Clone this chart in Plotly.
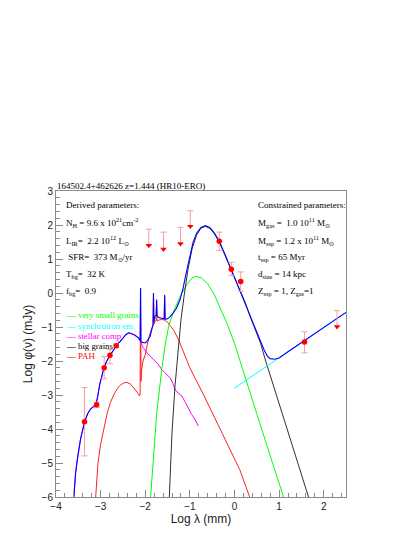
import plotly.graph_objects as go

# ---------------- data ----------------
total_x = [-3.60, -3.56, -3.51, -3.45, -3.36, -3.29, -3.23, -3.10, -3.06, -3.02, -2.97, -2.92,
           -2.86, -2.79, -2.70, -2.65, -2.56, -2.49, -2.43, -2.37, -2.32, -2.26, -2.20, -2.15,
           -2.115, -2.105, -2.095, -2.05, -2.00, -1.95, -1.89, -1.84, -1.825, -1.815, -1.805,
           -1.78, -1.755, -1.745, -1.735, -1.70, -1.65, -1.60, -1.575, -1.565, -1.555, -1.52,
           -1.45, -1.38, -1.30, -1.22, -1.15, -1.08, -1.00, -0.93, -0.85, -0.75, -0.65, -0.55,
           -0.45, -0.34, -0.20, -0.07, 0.05, 0.14, 0.25, 0.35, 0.48, 0.58, 0.66, 0.73, 0.80,
           0.90, 1.00, 1.20, 1.57, 2.00, 2.50]
total_y = [-6.0, -5.28, -4.79, -4.30, -3.79, -3.55, -3.42, -3.27, -3.00, -2.69, -2.44, -2.17,
           -2.00, -1.83, -1.66, -1.54, -1.42, -1.32, -1.22, -1.17, -1.19, -1.22, -1.27, -1.32,
           -1.40, 0.15, -1.44, -1.46, -1.47, -1.40, -1.27, -1.00, -0.95, 0.00, -0.85,
           -0.68, -0.66, -0.19, -0.66, -0.72, -0.74, -0.75, -0.76, -0.05, -0.76, -0.77,
           -0.71, -0.60, -0.45, -0.20, 0.15, 0.60, 1.12, 1.48, 1.76, 1.93, 1.98, 1.92,
           1.76, 1.52, 1.10, 0.68, 0.30, 0.05, -0.30, -0.68, -1.10, -1.42, -1.66, -1.84, -1.93,
           -1.95, -1.91, -1.73, -1.40, -1.02, -0.57]

stellar_x = [-3.60, -3.56, -3.51, -3.45, -3.36, -3.29, -3.23, -3.10, -3.06, -3.02, -2.97, -2.92,
             -2.86, -2.79, -2.70, -2.65, -2.56, -2.49, -2.43, -2.37, -2.32, -2.26, -2.20, -2.15,
             -2.10, -2.05, -1.96, -1.88, -1.81, -1.72, -1.63, -1.52, -1.44, -1.38, -1.33, -1.25,
             -1.18, -1.10, -1.03, -0.96, -0.88, -0.81]
stellar_y = [-6.0, -5.28, -4.79, -4.30, -3.79, -3.55, -3.42, -3.27, -3.00, -2.69, -2.44, -2.17,
             -2.00, -1.83, -1.66, -1.54, -1.42, -1.32, -1.22, -1.17, -1.19, -1.22, -1.27, -1.33,
             -1.45, -1.60, -1.76, -1.86, -1.95, -2.08, -2.25, -2.38, -2.50, -2.66, -2.85, -2.95,
             -3.03, -3.22, -3.42, -3.57, -3.73, -3.91]

pah_x = [-3.11, -3.06, -3.00, -2.92, -2.85, -2.78, -2.70, -2.62, -2.55, -2.47, -2.41, -2.33,
         -2.26, -2.18, -2.125, -2.115, -2.105, -2.095, -2.085, -2.05, -2.00, -1.95, -1.90,
         -1.84, -1.825, -1.815, -1.805, -1.78, -1.755, -1.745, -1.735, -1.68, -1.62, -1.575,
         -1.565, -1.555, -1.50, -1.43, -1.36, -1.25, -1.18, -1.00, -0.69, -0.40, -0.17, 0.12, 0.34]
pah_y = [-6.0, -5.0, -4.45, -3.90, -3.52, -3.22, -2.98, -2.80, -2.70, -2.64, -2.63, -2.68,
         -2.78, -2.92, -3.03, -2.95, 0.10, -2.60, -2.30, -2.00, -1.82, -1.50, -1.22,
         -1.00, -0.97, -0.05, -0.92, -0.84, -0.82, -0.25, -0.82, -0.79, -0.78, -0.80,
         -0.10, -0.81, -0.86, -0.98, -1.10, -1.38, -1.60, -2.20, -3.00, -3.80, -4.45, -5.20, -6.0]

vsg_x = [-1.88, -1.80, -1.74, -1.63, -1.55, -1.47, -1.35, -1.20, -1.05, -0.95, -0.87, -0.75,
         -0.60, -0.45, -0.30, -0.15, 0.00, 0.26, 0.50, 0.80, 1.10]
vsg_y = [-6.0, -4.5, -3.5, -2.25, -1.5, -0.95, -0.5, -0.05, 0.28, 0.44, 0.49, 0.45,
         0.27, -0.05, -0.48, -0.95, -1.48, -2.58, -3.55, -4.78, -6.0]

bg_x = [-1.46, -1.40, -1.33, -1.27, -1.20, -1.12, -1.04, -0.95, -0.85, -0.75, -0.65, -0.55,
        -0.45, -0.34, -0.20, -0.07, 0.05, 0.14, 0.25, 0.35, 0.48, 0.58, 0.70, 0.85, 1.02,
        1.20, 1.45, 1.66]
bg_y = [-6.0, -4.1, -2.7, -1.7, -0.8, 0.0, 0.7, 1.30, 1.70, 1.91, 1.96, 1.90,
        1.74, 1.50, 1.08, 0.66, 0.28, 0.04, -0.31, -0.69, -1.12, -1.46, -2.00, -2.62, -3.33,
        -4.08, -5.12, -6.0]

sync_x = [0.0, 2.5]
sync_y = [-2.80, -0.57]

det_x = [-3.36, -3.09, -2.92, -2.79, -2.65, -0.34, -0.07, 0.14, 1.57]
det_y = [-3.79, -3.29, -2.20, -1.83, -1.55, 1.52, 0.70, 0.34, -1.44]
det_err_hi = [1.01, 0.08, 0.33, 0.17, 0.05, 0.27, 0.20, 0.28, 0.30]
det_err_lo = [1.00, 0.08, 0.32, 0.25, 0.05, 0.27, 0.19, 0.29, 0.32]

lim_x = [-1.92, -1.59, -1.21, -0.99, 2.30]
lim_y = [1.40, 1.29, 1.45, 1.96, -0.99]
lim_err = [0.48, 0.50, 0.48, 0.46, 0.47]

legend_labels = ["very small grains", "synchrotron em.", "stellar comp.", "big grains", "PAH"]
legend_colors = ["#00ff00", "#00ffff", "#ff00ff", "#000000", "#ff0000"]

title_text = "164502.4+462626 z=1.444 (HR10-ERO)"
left_params = ["Derived parameters:",
               "N<sub>H</sub> = 9.6 x 10<sup>21</sup>cm<sup>-2</sup>",
               "L<sub>IR</sub>=\u00a0 2.2 10<sup>12</sup> L<sub>⊙</sub>",
               "\u00a0SFR=\u00a0 373 M<sub>⊙</sub>/yr",
               "T<sub>bg</sub>=\u00a0 32 K",
               "f<sub>bg</sub>=\u00a0 0.9"]
right_params = ["Constrained parameters:",
                "M<sub>gas</sub> =\u00a0 1.0 10<sup>11</sup> M<sub>⊙</sub>",
                "M<sub>ssp</sub> = 1.2 x 10<sup>11</sup> M<sub>⊙</sub>",
                "t<sub>ssp</sub> = 65 Myr",
                "d<sub>size</sub> = 14 kpc",
                "Z<sub>ssp</sub> = 1, Z<sub>gas</sub>=1"]

# ---------------- figure ----------------
OFF = 8                      # default page body margin
W, H = 415 - OFF, 537 - OFF  # figure size
L, R, T, B = 48, 69, 183, 40
pw, ph = W - L - R, H - T - B


def px(xp):  # page pixel -> paper x
    return (xp - OFF - L) / pw


def py(yp):  # page pixel -> paper y
    return (OFF + H - B - yp) / ph


fig = go.Figure()

fig.add_trace(go.Scatter(x=pah_x, y=pah_y, mode="lines", line=dict(color="#ff2020", width=1)))
fig.add_trace(go.Scatter(x=stellar_x, y=stellar_y, mode="lines", line=dict(color="#ff00ff", width=1)))
fig.add_trace(go.Scatter(x=vsg_x, y=vsg_y, mode="lines", line=dict(color="#00ff00", width=1)))
fig.add_trace(go.Scatter(x=bg_x, y=bg_y, mode="lines", line=dict(color="#303030", width=1)))
fig.add_trace(go.Scatter(x=sync_x, y=sync_y, mode="lines", line=dict(color="#00ffff", width=1)))
fig.add_trace(go.Scatter(x=total_x, y=total_y, mode="lines", line=dict(color="#0000ff", width=1.1)))

fig.add_trace(go.Scatter(
    x=det_x, y=det_y, mode="markers",
    marker=dict(color="#ff0000", size=5.5, symbol="circle"),
    error_y=dict(type="data", symmetric=False, array=det_err_hi, arrayminus=det_err_lo,
                 color="#f5a0a0", thickness=1, width=3)))
fig.add_trace(go.Scatter(
    x=lim_x, y=lim_y, mode="markers",
    marker=dict(color="#ff0000", size=5.5, symbol="triangle-down"),
    error_y=dict(type="data", symmetric=False, array=lim_err, arrayminus=[0] * len(lim_err),
                 color="#f5a0a0", thickness=1, width=3)))

ann = []
ann.append(dict(x=px(55), y=py(186), xref="paper", yref="paper", text=title_text,
                showarrow=False, xanchor="left", yanchor="middle",
                font=dict(family="Liberation Serif", size=9, color="#000")))
rows_y = [205, 222, 240, 257, 274, 291]
for t, yy in zip(left_params, rows_y):
    ann.append(dict(x=px(64), y=py(yy), xref="paper", yref="paper", text=t, showarrow=False,
                    xanchor="left", yanchor="middle",
                    font=dict(family="Liberation Serif", size=9, color="#000")))
for t, yy in zip(right_params, rows_y):
    ann.append(dict(x=px(256), y=py(yy), xref="paper", yref="paper", text=t, showarrow=False,
                    xanchor="left", yanchor="middle",
                    font=dict(family="Liberation Serif", size=9, color="#000")))
leg_y = [315, 325.5, 335.5, 345.5, 356]
for lab, col, yy in zip(legend_labels, legend_colors, leg_y):
    ann.append(dict(x=px(64), y=py(yy), xref="paper", yref="paper",
                    text="\u2014 " + lab, showarrow=False, xanchor="left", yanchor="middle",
                    font=dict(family="Liberation Serif", size=8.8, color=col)))

axis_common = dict(
    showline=True, linecolor="#8a8a8a", linewidth=1, mirror=True,
    ticks="inside", ticklen=7, tickcolor="#8a8a8a", tickwidth=1,
    showgrid=False, zeroline=False,
    tickfont=dict(family="Liberation Sans", size=10, color="#222"),
)

fig.update_layout(
    width=W, height=H,
    margin=dict(l=L, r=R, t=T, b=B),
    paper_bgcolor="white", plot_bgcolor="white",
    showlegend=False,
    annotations=ann,
    xaxis=dict(range=[-4, 2.5], dtick=1, tick0=0,
               minor=dict(dtick=0.2, ticks="inside", ticklen=4, tickcolor="#8a8a8a", showgrid=False),
               title=dict(text="Log λ (mm)", standoff=1,
                          font=dict(family="Liberation Sans", size=12, color="#222")),
               **axis_common),
    yaxis=dict(range=[-6, 3], dtick=1, tick0=0,
               minor=dict(dtick=0.2, ticks="inside", ticklen=4, tickcolor="#8a8a8a", showgrid=False),
               title=dict(text="Log φ(ν) (mJy)", standoff=6,
                          font=dict(family="Liberation Sans", size=12, color="#222")),
               **axis_common),
)

fig.write_html("out.html")
